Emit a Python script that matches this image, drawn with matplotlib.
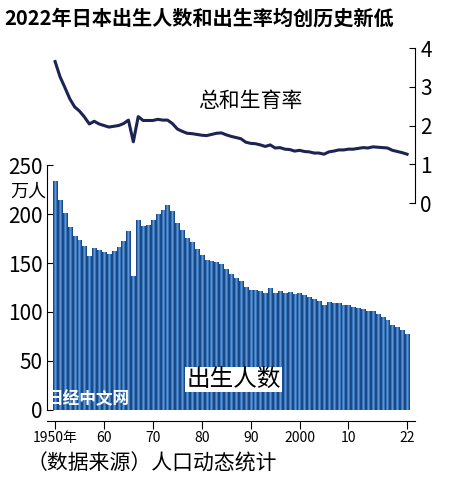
import matplotlib
matplotlib.use("Agg")
import matplotlib.pyplot as plt
import numpy as np
from matplotlib.colors import LinearSegmentedColormap

plt.rcParams['font.family'] = ['Noto Sans CJK SC', 'DejaVu Sans']

years = list(range(1950, 2023))
births = [233.8,213.8,200.5,186.8,177.0,173.1,166.5,156.7,165.3,162.6,160.6,158.9,161.9,166.0,171.7,182.4,136.1,193.6,187.2,188.9,
          193.4,200.1,203.9,209.2,203.0,190.1,183.3,175.5,170.9,164.3,157.7,152.9,151.5,150.9,149.0,143.2,138.3,134.7,131.4,124.7,
          122.2,122.3,120.9,118.8,123.8,118.7,120.7,119.2,120.3,117.8,119.1,117.1,115.4,112.4,111.1,106.3,109.3,109.0,109.1,107.0,
          107.1,105.1,103.7,103.0,100.4,100.6,97.7,94.6,91.8,86.5,84.1,81.2,77.1]
tfr = [3.65,3.26,2.98,2.69,2.48,2.37,2.22,2.04,2.11,2.04,2.00,1.96,1.98,2.00,2.05,2.14,1.58,2.23,2.13,2.13,
       2.13,2.16,2.14,2.14,2.05,1.91,1.85,1.80,1.79,1.77,1.75,1.74,1.77,1.80,1.81,1.76,1.72,1.69,1.66,1.57,
       1.54,1.53,1.50,1.46,1.50,1.42,1.43,1.39,1.38,1.34,1.36,1.33,1.32,1.29,1.29,1.26,1.32,1.34,1.37,1.37,
       1.39,1.39,1.41,1.43,1.42,1.45,1.44,1.43,1.42,1.36,1.33,1.30,1.26]
xticks = [1950,1960,1970,1980,1990,2000,2010,2022]
xticklabels = ['1950年','60','70','80','90','2000','10','22']

fig = plt.figure(figsize=(4.5,4.8), dpi=100)
fig.patch.set_facecolor('white')
xl = (1948.3, 2023.6)

ax = fig.add_axes([0.104, 0.146, 0.818, 0.51])
cmap = LinearSegmentedColormap.from_list('b', ['#0d3a78', '#2f6db5', '#6fa3db', '#2f6db5', '#0d3a78'])
bars = ax.bar(years, births, width=0.85, color='#2a63a8', edgecolor='white', linewidth=0.3, zorder=2)
for b in bars:
    x0, y0 = b.get_x(), b.get_y()
    w, h = b.get_width(), b.get_height()
    grad = np.linspace(0, 1, 16).reshape(1, -1)
    ax.imshow(grad, cmap=cmap, aspect='auto', extent=[x0, x0+w, y0, y0+h], zorder=2)
    b.set_visible(False)
ax.set_xlim(*xl)
ax.set_ylim(0, 250)
ax.set_yticks([0,50,100,150,200,250])
ax.tick_params(axis='y', labelsize=15, length=4, direction='in', pad=3)
ax.set_xticks(xticks)
ax.set_xticklabels(xticklabels, fontsize=16)
ax.tick_params(axis='x', length=6, direction='out', pad=1)
for s in ['top', 'right']:
    ax.spines[s].set_visible(False)
ax.spines['bottom'].set_position(('outward', 8))
ax.text(-0.1, 0.93, '万人', transform=ax.transAxes, fontsize=13, ha='left', va='top')
ax.text(1986.5, 31, '出生人数', fontsize=17, ha='center', va='center',
        bbox=dict(facecolor='white', edgecolor='none', pad=1), zorder=5)
ax.text(0.0, 0.045, '日经中文网', transform=ax.transAxes, fontsize=12, color='white',
        fontweight='bold', ha='left', va='center', zorder=6)

ax2 = fig.add_axes([0.104, 0.577, 0.818, 0.323])
ax2.patch.set_alpha(0)
ax2.plot(years, tfr, color='#1c2452', lw=2.2)
ax2.set_xlim(*xl)
ax2.set_ylim(0, 4)
ax2.yaxis.tick_right()
ax2.set_yticks([0,1,2,3,4])
ax2.tick_params(axis='y', labelsize=15, length=4, direction='in', pad=4)
ax2.set_xticks([])
for s in ['top', 'left', 'bottom']:
    ax2.spines[s].set_visible(False)
ax2.text(1990, 2.62, '总和生育率', fontsize=15, ha='center', va='center')

fig.text(0.01, 0.985, '2022年日本出生人数和出生率均创历史新低', fontsize=14.5, fontweight='bold', ha='left', va='top')
fig.text(0.06, 0.035, '（数据来源）人口动态统计', fontsize=15, ha='left', va='center')

fig.savefig('out.png', dpi=100, facecolor='white')
